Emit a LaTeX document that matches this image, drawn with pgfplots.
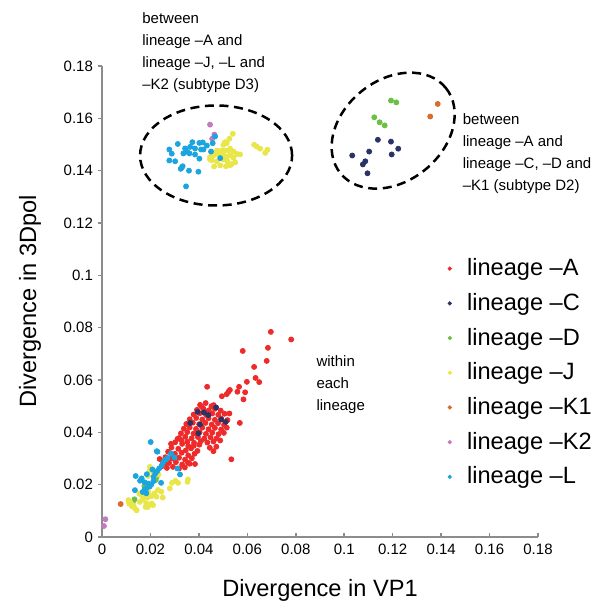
\documentclass[border=0pt]{standalone}
\usepackage{fontspec}
\setmainfont{Liberation Sans}
\usepackage{pgfplots}
\pgfplotsset{compat=1.18}

\definecolor{cA}{HTML}{EE2A2A}
\definecolor{cC}{HTML}{2A3366}
\definecolor{cD}{HTML}{6BBF45}
\definecolor{cJ}{HTML}{E9E64A}
\definecolor{cK1}{HTML}{D96B2B}
\definecolor{cK2}{HTML}{C27BBE}
\definecolor{cL}{HTML}{1BA5DF}
\definecolor{axisgray}{HTML}{8C8C8C}

\pgfplotsset{
  dots/.style={only marks, mark=*, mark size=1.25pt, color=#1, mark options={draw=none}},
}

\begin{document}
\begin{tikzpicture}
\useasboundingbox (-51pt,-35pt) rectangle (256.5pt,268.5pt);
\begin{axis}[
    scale only axis,
    width=218pt,
    height=235.5pt,
    xmin=0, xmax=0.18,
    ymin=0, ymax=0.18,
    axis lines=left,
    axis line style={-, draw=axisgray, line width=1pt},
    xtick={0,0.02,0.04,0.06,0.08,0.1,0.12,0.14,0.16,0.18},
    ytick={0,0.02,0.04,0.06,0.08,0.1,0.12,0.14,0.16,0.18},
    scaled ticks=false,
    tick align=inside,
    major tick length=2pt,
    tick style={axisgray, line width=0.8pt},
    y tick style={xshift=-2pt},
    xticklabel style={/pgf/number format/fixed, /pgf/number format/precision=2},
    yticklabel style={/pgf/number format/fixed, /pgf/number format/precision=2, xshift=-1pt},
    tick label style={font=\fontsize{7.5}{9}\selectfont},
    /pgf/number format/assume math mode=true,
    xlabel={Divergence in VP1},
    ylabel={Divergence in 3Dpol},
    x label style={at={(axis description cs:0.5,-0.1125)}, anchor=center, font=\fontsize{11.8}{13}\selectfont},
    y label style={at={(axis description cs:-0.165,0.5)}, anchor=center, font=\fontsize{11.8}{13}\selectfont},
    legend style={
        at={(0.792,0.592)},
        anchor=north west,
        draw=none, fill=none,
        inner sep=0pt,
        row sep=7.3pt,
        column sep=7.6pt,
        font=\fontsize{11.8}{13}\selectfont,
        nodes={inner sep=0pt},
    },
    legend cell align=left,
    legend image code/.code={\fill[#1] (0pt,0pt) circle (0.85pt);},
    clip=false,
]

\addplot[dots=cA] coordinates {
    (0.0697,0.0784) (0.0781,0.0755) (0.0685,0.0723) (0.0581,0.0711) (0.0680,0.0673)
    (0.0628,0.0650) (0.0634,0.0608) (0.0649,0.0592) (0.0598,0.0593) (0.0434,0.0574)
    (0.0566,0.0574) (0.0522,0.0555) (0.0528,0.0562) (0.0559,0.0555) (0.0591,0.0553)
    (0.0584,0.0526) (0.0495,0.0538) (0.0569,0.0436) (0.0534,0.0297) (0.0461,0.0504)
    (0.0515,0.0546) (0.0526,0.0472) (0.0412,0.0497)
    (0.0405,0.0505) (0.0428,0.0512) (0.0452,0.0500)
    (0.0392,0.0486) (0.0418,0.0491) (0.0441,0.0484) (0.0466,0.0490) (0.0490,0.0483)
    (0.0378,0.0468) (0.0404,0.0473) (0.0430,0.0466) (0.0455,0.0472) (0.0480,0.0467) (0.0506,0.0471)
    (0.0362,0.0450) (0.0389,0.0455) (0.0414,0.0449) (0.0440,0.0454) (0.0466,0.0448) (0.0492,0.0453) (0.0518,0.0447)
    (0.0348,0.0432) (0.0375,0.0437) (0.0401,0.0431) (0.0427,0.0436) (0.0453,0.0430) (0.0479,0.0435) (0.0504,0.0429)
    (0.0338,0.0414) (0.0362,0.0419) (0.0388,0.0413) (0.0414,0.0418) (0.0440,0.0412) (0.0466,0.0417) (0.0492,0.0411) (0.0515,0.0418)
    (0.0326,0.0396) (0.0352,0.0401) (0.0378,0.0395) (0.0403,0.0400) (0.0429,0.0394) (0.0455,0.0399) (0.0481,0.0393) (0.0503,0.0398)
    (0.0318,0.0378) (0.0344,0.0383) (0.0370,0.0377) (0.0396,0.0382) (0.0422,0.0376) (0.0448,0.0381) (0.0473,0.0377)
    (0.0352,0.0364) (0.0380,0.0360) (0.0408,0.0366) (0.0435,0.0361) (0.0460,0.0365) (0.0488,0.0369)
    (0.0445,0.0341) (0.0472,0.0345) (0.0460,0.0328)
    (0.0302,0.0362) (0.0331,0.0356) (0.0356,0.0348) (0.0379,0.0349) (0.0402,0.0353)
    (0.0287,0.0342) (0.0315,0.0337) (0.0346,0.0331) (0.0368,0.0339) (0.0394,0.0329)
    (0.0273,0.0326) (0.0301,0.0318) (0.0329,0.0322) (0.0356,0.0312) (0.0382,0.0318)
    (0.0262,0.0305) (0.0289,0.0300) (0.0318,0.0303) (0.0343,0.0296) (0.0371,0.0301)
    (0.0251,0.0289) (0.0277,0.0283) (0.0305,0.0286) (0.0331,0.0277) (0.0355,0.0284)
    (0.0246,0.0270) (0.0268,0.0264) (0.0293,0.0268) (0.0318,0.0262) (0.0342,0.0266)
    (0.0384,0.0279) (0.0258,0.0280) (0.0238,0.0298) (0.0312,0.0375) (0.0328,0.0370)
    (0.0285,0.0356) (0.0362,0.0280)
};
\addlegendentry{lineage --A}

\addplot[dots=cC] coordinates {
    (0.0395,0.0478) (0.0421,0.0476) (0.0439,0.0466) (0.0471,0.0495) (0.0364,0.0436)
    (0.0405,0.0430) (0.0492,0.0449) (0.0511,0.0440) (0.0398,0.0396)
    (0.1139,0.1518) (0.1193,0.1511) (0.1223,0.1484) (0.1103,0.1473) (0.1196,0.1462)
    (0.1033,0.1458) (0.1087,0.1436) (0.1077,0.1424) (0.1096,0.1390)
};
\addlegendentry{lineage --C}

\addplot[dots=cD] coordinates {
    (0.0222,0.0218) (0.0226,0.0230) (0.0175,0.0195) (0.0134,0.0144) (0.0127,0.0131)
    (0.1193,0.1668) (0.1215,0.1661) (0.1124,0.1604) (0.1146,0.1585) (0.1167,0.1573)
};
\addlegendentry{lineage --D}

\addplot[dots=cJ] coordinates {
    (0.0198,0.0268) (0.0204,0.0260) (0.0212,0.0249) (0.0197,0.0253) (0.0233,0.0239)
    (0.0215,0.0232) (0.0190,0.0233) (0.0154,0.0166) (0.0163,0.0160) (0.0178,0.0154)
    (0.0191,0.0173) (0.0216,0.0166) (0.0205,0.0128) (0.0180,0.0115) (0.0109,0.0141)
    (0.0116,0.0135) (0.0129,0.0122) (0.0136,0.0109) (0.0122,0.0118) (0.0143,0.0102)
    (0.0112,0.0128) (0.0156,0.0134) (0.0169,0.0143) (0.0183,0.0128) (0.0190,0.0115)
    (0.0211,0.0122) (0.0225,0.0154) (0.0204,0.0156) (0.0187,0.0150) (0.0245,0.0173)
    (0.0231,0.0180) (0.0251,0.0151) (0.0280,0.0186) (0.0289,0.0207) (0.0303,0.0215)
    (0.0314,0.0207) (0.0355,0.0220) (0.0353,0.0211)
    (0.0540,0.1541) (0.0526,0.1522) (0.0508,0.1509) (0.0515,0.1505) (0.0501,0.1499)
    (0.0476,0.1477) (0.0467,0.1471) (0.0495,0.1477) (0.0508,0.1477) (0.0522,0.1477)
    (0.0529,0.1484) (0.0543,0.1473) (0.0557,0.1464) (0.0570,0.1462) (0.0446,0.1452)
    (0.0460,0.1458) (0.0481,0.1461) (0.0501,0.1458) (0.0515,0.1454) (0.0529,0.1458)
    (0.0543,0.1449) (0.0453,0.1440) (0.0474,0.1436) (0.0501,0.1443) (0.0518,0.1436)
    (0.0550,0.1432) (0.0463,0.1416) (0.0488,0.1420) (0.0512,0.1417) (0.0529,0.1421)
    (0.0446,0.1443) (0.0535,0.1425)
    (0.0628,0.1499) (0.0639,0.1492) (0.0653,0.1484) (0.0683,0.1480) (0.0674,0.1468)
};
\addlegendentry{lineage --J}

\addplot[dots=cK1] coordinates {
    (0.0077,0.0126) (0.1386,0.1655) (0.1355,0.1607)
};
\addlegendentry{lineage --K1}

\addplot[dots=cK2] coordinates {
    (0.0014,0.0068) (0.0008,0.0042) (0.0446,0.1576) (0.0464,0.1538) (0.0455,0.1522)
};
\addlegendentry{lineage --K2}

\addplot[dots=cL] coordinates {
    (0.0313,0.1502) (0.0373,0.1509) (0.0402,0.1506) (0.0416,0.1508) (0.0433,0.1496)
    (0.0457,0.1505) (0.0467,0.1531) (0.0278,0.1481) (0.0343,0.1485) (0.0364,0.1491)
    (0.0384,0.1485) (0.0409,0.1481) (0.0419,0.1481) (0.0450,0.1473) (0.0288,0.1465)
    (0.0336,0.1466) (0.0352,0.1472) (0.0361,0.1466) (0.0384,0.1462) (0.0278,0.1439)
    (0.0302,0.1436) (0.0402,0.1446) (0.0333,0.1417) (0.0325,0.1407) (0.0329,0.1412)
    (0.0359,0.1400) (0.0398,0.1396) (0.0347,0.1340) (0.0488,0.1448)
    (0.0201,0.0363) (0.0226,0.0328) (0.0285,0.0319) (0.0299,0.0304) (0.0271,0.0302)
    (0.0253,0.0287) (0.0247,0.0274) (0.0236,0.0262) (0.0228,0.0252) (0.0220,0.0243)
    (0.0213,0.0230) (0.0208,0.0258) (0.0191,0.0204) (0.0203,0.0200) (0.0185,0.0187)
    (0.0176,0.0181) (0.0168,0.0172) (0.0197,0.0193) (0.0212,0.0213) (0.0244,0.0207)
    (0.0185,0.0240) (0.0157,0.0215) (0.0139,0.0233) (0.0136,0.0179) (0.0164,0.0224)
    (0.0311,0.0262) (0.0322,0.0239) (0.0176,0.0209) (0.0183,0.0167) (0.0262,0.0295)
    (0.0229,0.0326)
};
\addlegendentry{lineage --L}

% dashed outlines round the two between-subtype groups
\draw[black, line width=1.25pt, dash pattern=on 4.5pt off 2.8pt]
    (axis cs:0.0471,0.1458) ellipse [x radius=38pt, y radius=25pt];
\draw[black, line width=1.25pt, dash pattern=on 4.5pt off 2.8pt]
    (axis cs:0.1202,0.1553) ellipse [x radius=33.9pt, y radius=25.25pt, rotate=39];

\node[anchor=north west, align=left, inner sep=0pt, font=\fontsize{7.5}{11}\selectfont]
    at (axis cs:0.0165,0.2004) {between\\lineage --A and\\lineage --J, --L and\\--K2 (subtype D3)};
\node[anchor=north west, align=left, inner sep=0pt, font=\fontsize{7.5}{11}\selectfont]
    at (axis cs:0.1488,0.1618) {between\\lineage --A and\\lineage --C, --D and\\--K1 (subtype D2)};
\node[anchor=north west, align=left, inner sep=0pt, font=\fontsize{7.5}{11}\selectfont]
    at (axis cs:0.0884,0.0695) {within\\each\\lineage};

\end{axis}
\end{tikzpicture}
\end{document}
